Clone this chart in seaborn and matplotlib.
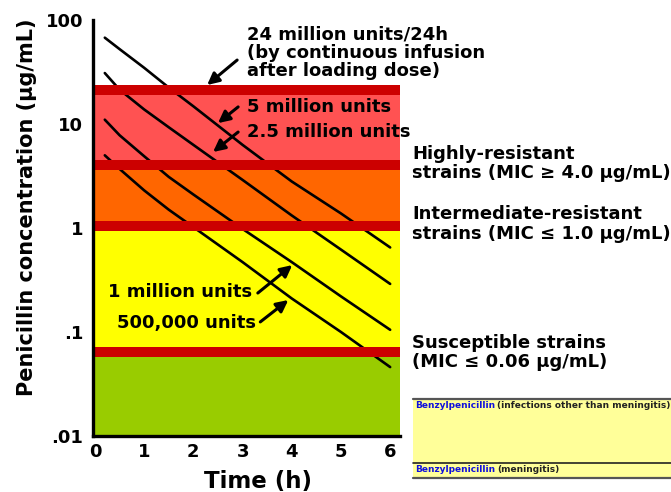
import numpy as np
import pandas as pd
import matplotlib
matplotlib.use("Agg")
import matplotlib.pyplot as plt
import seaborn as sns
from matplotlib.patches import Rectangle
from matplotlib.lines import Line2D
from matplotlib.ticker import LogLocator, NullFormatter

# ---------------- data ----------------
time_h = [0.2, 0.5, 1, 1.5, 2, 3, 4, 5, 6]
dose_labels = ["5 million units", "2.5 million units", "1 million units", "500,000 units"]
conc_5m = [67.6, 52.5, 34.7, 22.4, 14.8, 6.3, 2.8, 1.38, 0.65]
conc_2_5m = [30.9, 21.4, 13.8, 9.3, 6.3, 2.9, 1.32, 0.62, 0.29]
conc_1m = [11.0, 7.8, 4.9, 3.1, 2.1, 0.98, 0.47, 0.22, 0.105]
conc_500k = [5.0, 3.7, 2.3, 1.5, 1.02, 0.47, 0.21, 0.10, 0.046]

zone_low = [0.01, 0.06, 1.0, 4.0]
zone_high = [0.06, 1.0, 4.0, 21.0]
zone_colors = ["#99CC00", "#FFFF00", "#FF6600", "#FF5252"]

band_low = [0.057, 0.93, 3.64, 19.0]
band_high = [0.071, 1.18, 4.54, 23.6]
band_color = "#CC0000"

x_ticks = [0, 1, 2, 3, 4, 5, 6]
y_ticks = [0.01, 0.1, 1, 10, 100]
y_tick_labels = [".01", ".1", "1", "10", "100"]

# ---------------- style ----------------
sns.set_style("white")
plt.rcParams["font.family"] = ["DejaVu Sans"]
plt.rcParams["font.weight"] = "bold"
plt.rcParams["text.color"] = "black"
plt.rcParams["axes.labelcolor"] = "black"
plt.rcParams["xtick.color"] = "black"
plt.rcParams["ytick.color"] = "black"

W, H = 671, 492
fig = plt.figure(figsize=(W / 100, H / 100), dpi=100)
fig.patch.set_facecolor("white")
ax = fig.add_axes([93 / W, 56 / H, 307 / W, 416 / H])

df = pd.DataFrame({
    "Time": time_h * 4,
    "conc": conc_5m + conc_2_5m + conc_1m + conc_500k,
    "dose": np.repeat(dose_labels, len(time_h)),
})
sns.lineplot(data=df, x="Time", y="conc", hue="dose", palette=["black"] * 4,
             legend=False, linewidth=1.9, ax=ax, zorder=2)

ax.set_yscale("log")
ax.set_ylim(0.01, 100)
ax.set_xlim(-0.04, 6.2)

for lo, hi, c in zip(zone_low, zone_high, zone_colors):
    ax.axhspan(lo, hi, color=c, lw=0, zorder=0.5)
for lo, hi in zip(band_low, band_high):
    ax.axhspan(lo, hi, color=band_color, lw=0, zorder=2.1)

ax.set_xticks(x_ticks)
ax.set_xticklabels([str(t) for t in x_ticks])
ax.set_yticks(y_ticks)
ax.set_yticklabels(y_tick_labels)
ax.yaxis.set_minor_locator(LogLocator(base=10, subs=np.arange(2, 10)))
ax.yaxis.set_minor_formatter(NullFormatter())

ax.tick_params(axis="both", which="major", direction="in", length=7, width=1.6,
               labelsize=13, color="black", labelcolor="black")
ax.tick_params(axis="y", which="major", pad=7)
ax.tick_params(axis="x", which="major", pad=5)
ax.tick_params(axis="y", which="minor", direction="in", length=5.5, width=1.3, color="black")
for lab in ax.get_xticklabels() + ax.get_yticklabels():
    lab.set_fontweight("bold")

for s in ["top", "right"]:
    ax.spines[s].set_visible(False)
for s in ["left", "bottom"]:
    ax.spines[s].set_linewidth(2.4)
    ax.spines[s].set_color("black")
    ax.spines[s].set_zorder(3)

ax.set_xlabel("Time (h)", fontsize=16.5, fontweight="bold", color="black")
ax.set_ylabel("Penicillin concentration (\u03bcg/mL)", fontsize=15, fontweight="bold", color="black")
ax.xaxis.set_label_coords(0.537, -0.082)
ax.yaxis.set_label_coords(-0.182, 0.55)

# ---------------- annotations ----------------
tfs = 13
ax.text(3.09, 48.2, "24 million units/24h\n(by continuous infusion\nafter loading dose)",
        fontsize=tfs, fontweight="bold", ha="left", va="center", linespacing=1.0, clip_on=False)
ax.text(3.09, 14.6, "5 million units", fontsize=tfs, fontweight="bold", ha="left", va="center", clip_on=False)
ax.text(3.09, 8.37, "2.5 million units", fontsize=tfs, fontweight="bold", ha="left", va="center", clip_on=False)
ax.text(0.26, 0.243, "1 million units", fontsize=tfs, fontweight="bold", ha="left", va="center", clip_on=False)
ax.text(0.45, 0.122, "500,000 units", fontsize=tfs, fontweight="bold", ha="left", va="center", clip_on=False)

ax.text(6.45, 4.17, "Highly-resistant\nstrains (MIC \u2265 4.0 \u03bcg/mL)", fontsize=tfs,
        fontweight="bold", ha="left", va="center", linespacing=1.1, clip_on=False)
ax.text(6.45, 1.09, "Intermediate-resistant\nstrains (MIC \u2264 1.0 \u03bcg/mL)", fontsize=tfs,
        fontweight="bold", ha="left", va="center", linespacing=1.1, clip_on=False)
ax.text(6.45, 0.0635, "Susceptible strains\n(MIC \u2264 0.06 \u03bcg/mL)", fontsize=tfs,
        fontweight="bold", ha="left", va="center", linespacing=1.1, clip_on=False)

arrow_tail = [(2.89, 41.2), (2.91, 14.6), (2.91, 8.37), (3.31, 0.237), (3.36, 0.125)]
arrow_tip = [(2.28, 23.7), (2.50, 10.2), (2.40, 5.38), (4.01, 0.44), (3.93, 0.203)]
for tail, tip in zip(arrow_tail, arrow_tip):
    ax.annotate("", xy=tip, xytext=tail, annotation_clip=False, zorder=4,
                arrowprops=dict(arrowstyle="-|>,head_length=0.7,head_width=0.35",
                                color="black", lw=2.2, shrinkA=0, shrinkB=0))

# ---------------- pasted legend panel ----------------
x0, x1, y0, y1 = 413, 671, 399, 478
fig.patches.append(Rectangle((x0 / W, 1 - y1 / H), (x1 - x0) / W, (y1 - y0) / H,
                             transform=fig.transFigure, facecolor="#FFFF99",
                             edgecolor="none", zorder=1))
for yy, col, lw in [(399, "#555555", 1.6), (463, "#222222", 1.2), (478, "#555555", 1.6)]:
    fig.lines.append(Line2D([x0 / W, x1 / W], [1 - yy / H, 1 - yy / H],
                            transform=fig.transFigure, color=col, lw=lw, zorder=2))

lfs = 6.5
t1 = fig.text((x0 + 2) / W, 1 - 406 / H, "Benzylpenicillin", color="#1010DD",
              fontsize=lfs, fontweight="bold", ha="left", va="center")
t2 = fig.text((x0 + 2) / W, 1 - 469 / H, "Benzylpenicillin", color="#1010DD",
              fontsize=lfs, fontweight="bold", ha="left", va="center")
fig.canvas.draw()
r = fig.canvas.get_renderer()
bb1 = t1.get_window_extent(r)
bb2 = t2.get_window_extent(r)
fig.text(bb1.x1 / W + 2 / W, 1 - 406 / H, "(infections other than meningitis)", color="#222222",
         fontsize=lfs, fontweight="bold", ha="left", va="center")
fig.text(bb2.x1 / W + 2 / W, 1 - 469 / H, "(meningitis)", color="#222222",
         fontsize=lfs, fontweight="bold", ha="left", va="center")

fig.savefig("out.png", dpi=100)
